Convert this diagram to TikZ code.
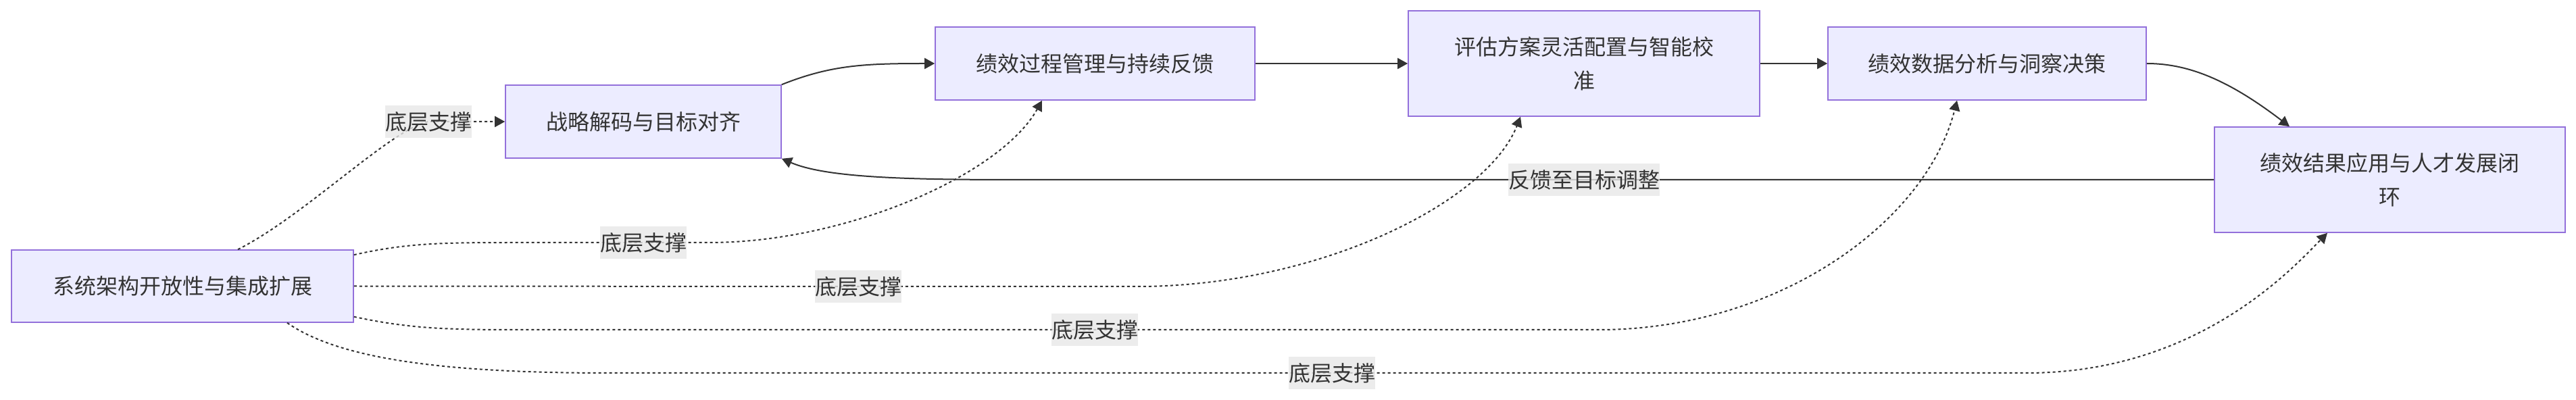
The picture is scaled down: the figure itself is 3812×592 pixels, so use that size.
\documentclass[tikz,border=0pt]{standalone}
\usepackage{fontspec}
\newfontfamily\cjk{Noto Sans CJK SC}
\usetikzlibrary{arrows.meta}
\definecolor{nodefill}{HTML}{ECECFF}
\definecolor{nodeborder}{HTML}{9370DB}
\definecolor{textc}{HTML}{333333}
\definecolor{linec}{HTML}{333333}
\definecolor{labelbg}{HTML}{E8E8E8}
\begin{document}
\begin{tikzpicture}[x=0.5pt,y=-0.5pt,
  box/.style={draw=nodeborder,fill=nodefill,line width=0.8pt,inner sep=0pt,align=center,
    font=\cjk\fontsize{16pt}{25pt}\selectfont,text=textc},
  lab/.style={fill=labelbg,fill opacity=0.8,text opacity=1,inner sep=0pt,minimum height=24pt,
    font=\cjk\fontsize{16pt}{25pt}\selectfont,text=textc},
  solidedge/.style={draw=linec,line width=1pt,-{Triangle[length=7.5pt,width=8pt]}},
  dotedge/.style={draw=linec,line width=1pt,dash pattern=on 2pt off 2pt,-{Triangle[length=7.5pt,width=8pt]}}
]
\fill[white] (0,0) rectangle (3812,592);
\useasboundingbox (0,0) rectangle (3812,592);

% nodes
\node[box,minimum width=253pt,minimum height=53.5pt] (S) at (270,423.5) {系统架构开放性与集成扩展};
\node[box,minimum width=204pt,minimum height=54pt] (A) at (952,180) {战略解码与目标对齐};
\node[box,minimum width=236.5pt,minimum height=54pt] (P) at (1620.5,94) {绩效过程管理与持续反馈};
\node[box,minimum width=260pt,minimum height=78pt] (E) at (2344,94) {评估方案灵活配置与智能校\\准};
\node[box,minimum width=235.5pt,minimum height=54pt] (D) at (2940.5,94) {绩效数据分析与洞察决策};
\node[box,minimum width=259.5pt,minimum height=78pt] (R) at (3536.5,266) {绩效结果应用与人才发展闭\\环};

% label positions
\coordinate (l1) at (634,180);
\coordinate (l2) at (952,359);
\coordinate (l3) at (1270,424);
\coordinate (l4) at (1620,488);
\coordinate (l5) at (1971,552);
\coordinate (l6) at (2344,266);

% main flow
\draw[solidedge] (A.north east) .. controls (1230,96) and (1280,94) .. (P.west);
\draw[solidedge] (P.east) -- (E.west);
\draw[solidedge] (E.east) -- (D.west);
\draw[solidedge] (D.east) .. controls (3240,94) and (3300,120) .. ([xshift=-74.25pt]R.north);
\draw[solidedge] (R.west) -- (l6) -- (1500,266) .. controls (1330,266) and (1220,262) .. (A.south east);

% support edges
\draw[dotedge] ([xshift=41pt]S.north) .. controls (450,320) and (580,190) .. (l1) -- (A.west);
\draw[dotedge] ([yshift=-4pt]S.north east) .. controls (600,360) and (650,359) .. (760,359) -- (l2) -- (1050,359)
   .. controls (1250,359) and (1480,260) .. ([xshift=-39.25pt]P.south);
\draw[dotedge] (S.east) -- (l3) -- (1683,424) .. controls (1950,424) and (2200,300) .. ([xshift=-47pt]E.south);
\draw[dotedge] ([yshift=4.5pt]S.south east) .. controls (600,485) and (650,488) .. (760,488) -- (l4) -- (2366,488)
   .. controls (2630,488) and (2850,330) .. ([xshift=-22.25pt]D.south);
\draw[dotedge] ([xshift=77.5pt]S.south) .. controls (500,530) and (650,552) .. (900,552) -- (l5) -- (2999,552)
   .. controls (3250,552) and (3390,400) .. ([xshift=-46.25pt]R.south);

% labels
\node[lab] (L1) at (l1) {底层支撑};
\node[lab] (L2) at (l2) {底层支撑};
\node[lab] (L3) at (l3) {底层支撑};
\node[lab] (L4) at (l4) {底层支撑};
\node[lab] (L5) at (l5) {底层支撑};
\node[lab] (L6) at (l6) {反馈至目标调整};
\end{tikzpicture}
\end{document}
